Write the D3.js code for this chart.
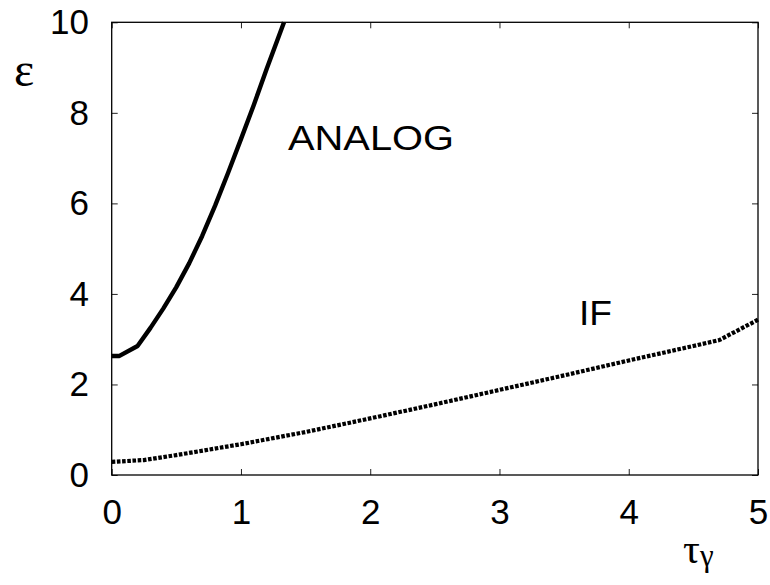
<!DOCTYPE html>
<html>
<head>
<meta charset="utf-8">
<script src="https://cdn.jsdelivr.net/npm/d3@7"></script>
<style>
  html, body { margin: 0; padding: 0; background: #fff; }
  svg { display: block; }
</style>
</head>
<body>
<svg id="chart" width="770" height="585"></svg>
<script>
// ---- data ----
const xTicks = [0, 1, 2, 3, 4, 5];
const yTicks = [0, 2, 4, 6, 8, 10];
const analogTau = [0, 0.06, 0.2, 0.3, 0.4, 0.5, 0.6, 0.7, 0.8, 0.9, 1.0, 1.1, 1.2, 1.333];
const analogEps = [2.63, 2.63, 2.85, 3.25, 3.68, 4.15, 4.68, 5.28, 5.95, 6.67, 7.42, 8.18, 8.98, 10.0];
const ifTau = [0, 0.25, 0.5, 1.0, 1.5, 2.0, 2.5, 3.0, 3.5, 4.0, 4.5, 4.7, 5.0];
const ifEps = [0.29, 0.33, 0.44, 0.68, 0.95, 1.25, 1.56, 1.88, 2.2, 2.53, 2.85, 2.98, 3.43];
const regionLabels = ["ANALOG", "IF"];

// ---- layout ----
const L = 111.7, R = 758, T = 22.3, B = 475;
const fontSans = "'Liberation Sans', Arial, Helvetica, sans-serif";
const fontSerif = "'Liberation Serif', 'Times New Roman', serif";

const svg = d3.select("#chart");
const x = d3.scaleLinear().domain([0, 5]).range([L, R]);
const y = d3.scaleLinear().domain([0, 10]).range([B, T]);

function styleAxis(g) {
  g.select(".domain").remove();
  g.selectAll(".tick line").attr("stroke", "#222").attr("stroke-width", 1);
}
const gx = svg.append("g").attr("transform", `translate(0,${B})`)
  .call(d3.axisBottom(x).tickValues(xTicks).tickSize(-6).tickPadding(24).tickFormat(d3.format("d")));
styleAxis(gx);
gx.selectAll(".tick text").attr("font-family", fontSans).attr("font-size", 35)
  .attr("fill", "#000");

const gy = svg.append("g").attr("transform", `translate(${L},0)`)
  .call(d3.axisLeft(y).tickValues(yTicks).tickSize(-6).tickPadding(22.7).tickFormat(d3.format("d")));
styleAxis(gy);
gy.selectAll(".tick text").attr("font-family", fontSans).attr("font-size", 35)
  .attr("fill", "#000");

const gxt = svg.append("g").attr("transform", `translate(0,${T})`)
  .call(d3.axisTop(x).tickValues(xTicks).tickSize(-6).tickFormat(""));
styleAxis(gxt);
const gyr = svg.append("g").attr("transform", `translate(${R},0)`)
  .call(d3.axisRight(y).tickValues(yTicks).tickSize(-6).tickFormat(""));
styleAxis(gyr);

svg.append("rect").attr("x", L).attr("y", T).attr("width", R - L).attr("height", B - T)
  .attr("fill", "none").attr("stroke", "#000").attr("stroke-width", 1.3);

const line = d3.line().x(d => x(d[0])).y(d => y(d[1]));
svg.append("path")
  .datum(analogTau.map((t, i) => [t, analogEps[i]]))
  .attr("d", line).attr("fill", "none").attr("stroke", "#000")
  .attr("stroke-width", 4.4).attr("stroke-linejoin", "round");
svg.append("path")
  .datum(ifTau.map((t, i) => [t, ifEps[i]]))
  .attr("d", line).attr("fill", "none").attr("stroke", "#000")
  .attr("stroke-width", 4.2).attr("stroke-dasharray", "3.6,1.6");

svg.append("text").attr("x", 288).attr("y", 150)
  .attr("font-family", fontSans).attr("font-size", 35)
  .attr("textLength", 166).attr("lengthAdjust", "spacingAndGlyphs").text(regionLabels[0]);
svg.append("text").attr("x", 579).attr("y", 325)
  .attr("font-family", fontSans).attr("font-size", 35)
  .attr("textLength", 33).attr("lengthAdjust", "spacingAndGlyphs").text(regionLabels[1]);

svg.append("text").attr("x", 14).attr("y", 86)
  .attr("font-family", fontSerif).attr("font-size", 48).text("ε");
const xt = svg.append("text").attr("x", 683).attr("y", 563)
  .attr("font-family", fontSerif).attr("font-size", 42);
xt.append("tspan").text("τ");
xt.append("tspan").attr("font-size", 31).attr("dy", 3).text("γ");
</script>
</body>
</html>
